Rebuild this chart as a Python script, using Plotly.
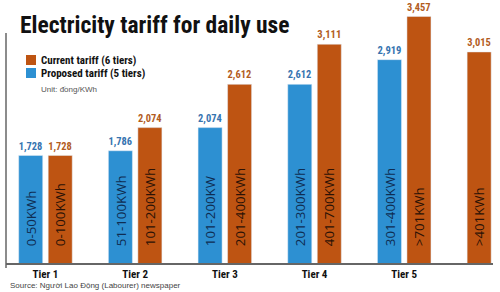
import plotly.graph_objects as go

# ---- data ----
tiers = ["Tier 1", "Tier 2", "Tier 3", "Tier 4", "Tier 5", "Tier 6"]
tier_labels = ["Tier 1", "Tier 2", "Tier 3", "Tier 4", "Tier 5"]
proposed = [1728, 1786, 2074, 2612, 2919]
proposed_ranges = ["0-50KWh", "51-100KWh", "101-200KW", "201-300KWh", "301-400KWh"]
current = [1728, 2074, 2612, 3111, 3457, 3015]
current_ranges = ["0-100KWh", "101-200KWh", "201-400KWh", "401-700KWh", ">701KWh", ">401KWh"]
legend_names = ["Current tariff (6 tiers)", "Proposed tariff (5 tiers)"]

# ---- style ----
BLUE = "#2D90D2"
ORANGE = "#BE5412"
BLUE_LBL = "#3674B0"
ORANGE_LBL = "#B25C1E"
BLUE_IN = "#0F2D52"
ORANGE_IN = "#2B1206"
NARROW = "Liberation Sans Narrow, Arial Narrow, Roboto Condensed, Liberation Sans, Arial"
Y_MIN, Y_MAX = 390, 3661
PAD = "\u00a0\u00a0\u00a0\u00a0"
PLOT_W, PLOT_H, ML, MT = 487, 263, 6, 0

fig = go.Figure()


def add_series(xs, vals, labels, color, lbl_color, in_color, group, name):
    # coloured bars carrying the range label inside, starting at axis floor
    fig.add_trace(go.Bar(
        x=xs, y=[v - Y_MIN for v in vals], base=Y_MIN,
        marker=dict(color=color, line=dict(width=0)),
        text=[PAD + t for t in labels], textposition="inside",
        insidetextanchor="start", textangle=-90,
        insidetextfont=dict(family="Open Sans, Liberation Sans, Arial", size=14, color=in_color),
        offsetgroup=group, name=name, showlegend=False,
    ))
    # transparent overlay carrying the value label above the bar
    fig.add_trace(go.Bar(
        x=xs, y=vals,
        marker=dict(color="rgba(0,0,0,0)"),
        text=[f"{v:,}" for v in vals], textposition="outside",
        textfont=dict(family=NARROW, size=11, color=lbl_color, weight="bold"),
        cliponaxis=False, offsetgroup=group, showlegend=False,
    ))


add_series(tiers[:5], proposed, proposed_ranges, BLUE, BLUE_LBL, BLUE_IN,
           "prop", legend_names[1])
add_series(tiers[:5], current[:5], current_ranges[:5], ORANGE, ORANGE_LBL, ORANGE_IN,
           "cur", legend_names[0])
add_series(tiers[5:], current[5:], current_ranges[5:], ORANGE, ORANGE_LBL, ORANGE_IN,
           "prop", legend_names[0])


def px(x):
    return (x - ML) / PLOT_W


def py(y):
    return (MT + PLOT_H - y) / PLOT_H


fig.update_layout(
    width=500, height=292,
    margin=dict(l=ML, r=500 - ML - PLOT_W, t=MT, b=292 - MT - PLOT_H),
    paper_bgcolor="white", plot_bgcolor="white",
    barmode="group", bargap=0.342, bargroupgap=0.186,
    title=dict(text="<b>Electricity tariff for daily use</b>",
               font=dict(family=NARROW, size=23.5, color="#111111"),
               xref="container", yref="container", x=0.04, y=1 - 25 / 292,
               xanchor="left", yanchor="middle"),
    xaxis=dict(range=[-0.44, 4.99], showline=True, linecolor="#666666", linewidth=1.5,
               ticks="", showgrid=False, zeroline=False,
               tickvals=tier_labels, ticktext=tier_labels,
               tickfont=dict(family=NARROW, size=11, color="#111111", weight="bold")),
    yaxis=dict(range=[Y_MIN, Y_MAX], showticklabels=False, showgrid=False,
               zeroline=False, showline=False),
    showlegend=False,
)

# y axis line (shorter than plot height as in the reference)
fig.add_shape(type="line", xref="paper", yref="paper", x0=0, x1=0,
              y0=py(268), y1=py(33), line=dict(color="#666666", width=1.5))

# manual legend
for i, (nm, col) in enumerate(zip(legend_names, [ORANGE, BLUE])):
    yc = 60 + 13 * i
    fig.add_shape(type="rect", xref="paper", yref="paper",
                  x0=px(26), x1=px(36), y0=py(yc + 5), y1=py(yc - 5),
                  fillcolor=col, line=dict(width=0))
    fig.add_annotation(text=f"<b>{nm}</b>", xref="paper", yref="paper",
                       x=px(39), y=py(yc + 1), xanchor="left", yanchor="middle",
                       showarrow=False,
                       font=dict(family=NARROW, size=11, color="#111111"))

fig.add_annotation(text="Unit: đồng/KWh", xref="paper", yref="paper",
                   x=px(39), y=py(89), xanchor="left", yanchor="middle",
                   showarrow=False, font=dict(family="Liberation Sans, Arial", size=8, color="#555555"))
fig.add_annotation(text="Source: Người Lao Động (Labourer) newspaper", xref="paper",
                   yref="paper", x=px(8), y=py(285), xanchor="left", yanchor="middle",
                   showarrow=False, font=dict(family="Liberation Sans, Arial", size=8, color="#444444"))

fig.write_html("out.html")
